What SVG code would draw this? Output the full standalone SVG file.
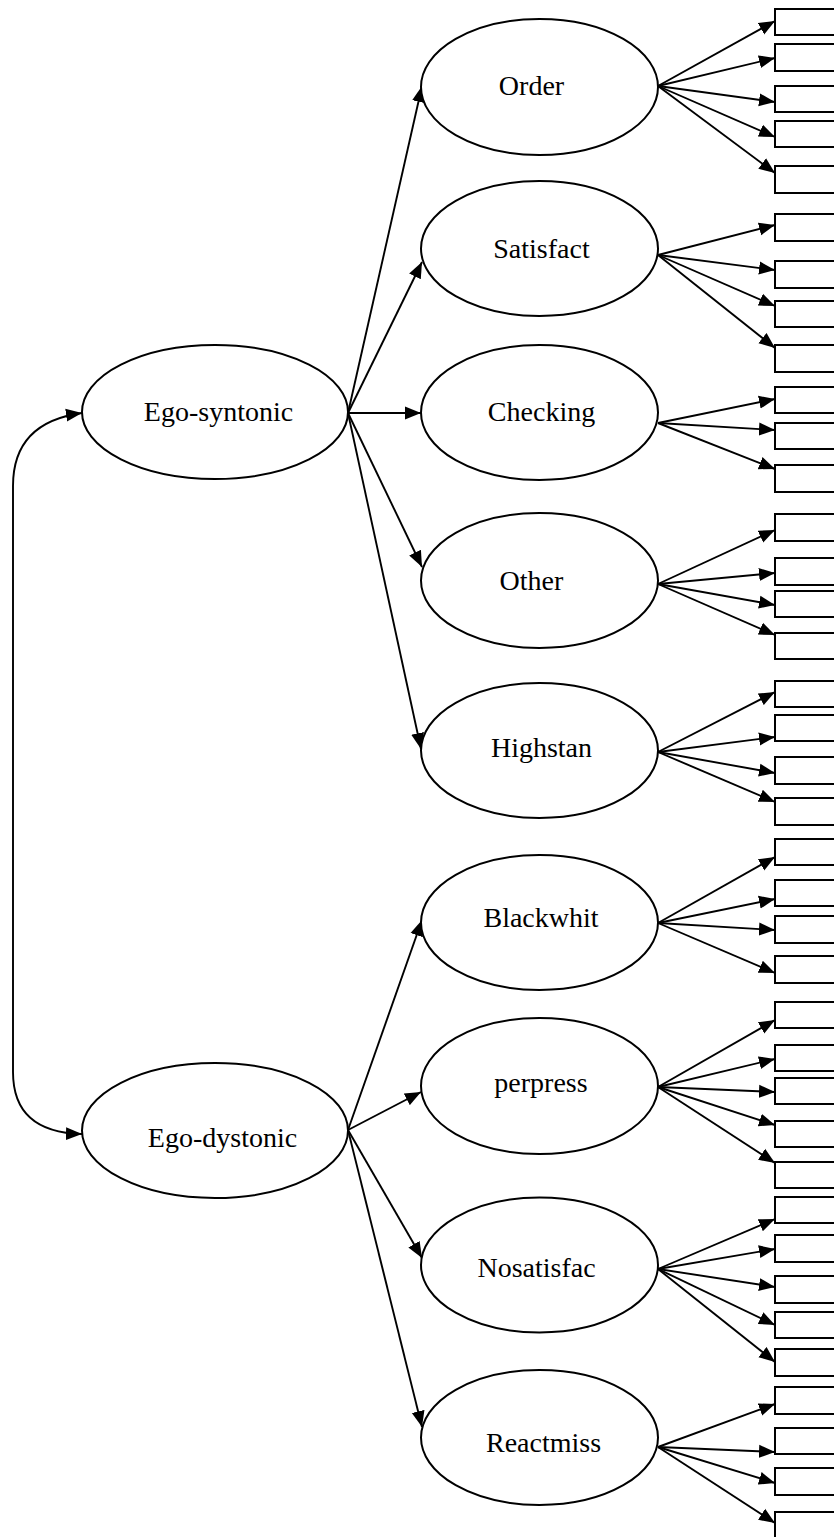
<svg xmlns="http://www.w3.org/2000/svg" width="834" height="1537" viewBox="0 0 834 1537">
  <style>
    .node ellipse { fill: #ffffff; stroke: #000000; stroke-width: 2; }
    .node text { font-family: "Liberation Serif", "Times New Roman", serif; font-size: 28px; fill: #000000; text-anchor: middle; }
    .ind rect { fill: #ffffff; stroke: #000000; stroke-width: 2; }
    .edges line, .edges path { fill: none; stroke: #000000; stroke-width: 1.9; marker-end: url(#arrow); }
    .edges path.both { marker-start: url(#arrowStart); }
  </style>
  <defs>
    <marker id="arrow" markerUnits="userSpaceOnUse" markerWidth="17" markerHeight="14" refX="16" refY="7" orient="auto">
      <path d="M0,0.5 L16,7 L0,13.5 z" fill="#000000"/>
    </marker>
    <marker id="arrowStart" markerUnits="userSpaceOnUse" markerWidth="17" markerHeight="14" refX="16" refY="7" orient="auto-start-reverse">
      <path d="M0,0.5 L16,7 L0,13.5 z" fill="#000000"/>
    </marker>
  </defs>
  <rect x="0" y="0" width="834" height="1537" fill="#ffffff"/>

  <!-- connectors -->
  <g id="connectors" class="edges">
    <!-- correlation between the two factors -->
    <path class="both" d="M82,413 C38,419 13,442 13,486 L13,1072 C13,1112 36,1133 82,1134"/>

    <!-- Ego-syntonic to its first-order factors -->
    <line x1="348" y1="413" x2="422" y2="86"/>
    <line x1="348" y1="413" x2="422" y2="262"/>
    <line x1="348" y1="413" x2="421" y2="413"/>
    <line x1="348" y1="413" x2="422" y2="567"/>
    <line x1="348" y1="413" x2="421" y2="749"/>

    <!-- Ego-dystonic to its first-order factors -->
    <line x1="348" y1="1130" x2="422" y2="920"/>
    <line x1="348" y1="1130" x2="421" y2="1092"/>
    <line x1="348" y1="1130" x2="422" y2="1258"/>
    <line x1="348" y1="1130" x2="422" y2="1427"/>

    <!-- Order indicators -->
    <line x1="658" y1="86" x2="775" y2="21"/>
    <line x1="658" y1="86" x2="775" y2="58"/>
    <line x1="658" y1="86" x2="775" y2="102"/>
    <line x1="658" y1="86" x2="775" y2="137"/>
    <line x1="658" y1="86" x2="775" y2="173"/>
    <!-- Satisfact indicators -->
    <line x1="658" y1="255" x2="775" y2="225"/>
    <line x1="658" y1="255" x2="775" y2="270"/>
    <line x1="658" y1="255" x2="775" y2="306"/>
    <line x1="658" y1="255" x2="775" y2="348"/>
    <!-- Checking indicators -->
    <line x1="658" y1="423" x2="775" y2="399"/>
    <line x1="658" y1="423" x2="775" y2="430"/>
    <line x1="658" y1="423" x2="775" y2="469"/>
    <!-- Other indicators -->
    <line x1="658" y1="584" x2="775" y2="530"/>
    <line x1="658" y1="584" x2="775" y2="573"/>
    <line x1="658" y1="584" x2="775" y2="605"/>
    <line x1="658" y1="584" x2="775" y2="635"/>
    <!-- Highstan indicators -->
    <line x1="658" y1="752" x2="775" y2="692"/>
    <line x1="658" y1="752" x2="775" y2="737"/>
    <line x1="658" y1="752" x2="775" y2="773"/>
    <line x1="658" y1="752" x2="775" y2="802"/>
    <!-- Blackwhit indicators -->
    <line x1="658" y1="923" x2="775" y2="857"/>
    <line x1="658" y1="923" x2="775" y2="899"/>
    <line x1="658" y1="923" x2="775" y2="930"/>
    <line x1="658" y1="923" x2="775" y2="973"/>
    <!-- perpress indicators -->
    <line x1="658" y1="1087" x2="775" y2="1020"/>
    <line x1="658" y1="1087" x2="775" y2="1059"/>
    <line x1="658" y1="1087" x2="775" y2="1092"/>
    <line x1="658" y1="1087" x2="775" y2="1125"/>
    <line x1="658" y1="1087" x2="775" y2="1163"/>
    <!-- Nosatisfac indicators -->
    <line x1="658" y1="1269" x2="775" y2="1219"/>
    <line x1="658" y1="1269" x2="775" y2="1249"/>
    <line x1="658" y1="1269" x2="775" y2="1287"/>
    <line x1="658" y1="1269" x2="775" y2="1325"/>
    <line x1="658" y1="1269" x2="775" y2="1362"/>
    <!-- Reactmiss indicators -->
    <line x1="658" y1="1447" x2="775" y2="1404"/>
    <line x1="658" y1="1447" x2="775" y2="1452"/>
    <line x1="658" y1="1447" x2="775" y2="1483"/>
    <line x1="658" y1="1447" x2="775" y2="1523"/>
  </g>

  <!-- second-order factors -->
  <g id="ego-syntonic" class="node">
    <ellipse cx="215" cy="412" rx="133" ry="67"/>
    <text x="218.5" y="421">Ego-syntonic</text>
  </g>
  <g id="ego-dystonic" class="node">
    <ellipse cx="215" cy="1130.5" rx="133" ry="67.5"/>
    <text x="222.5" y="1147">Ego-dystonic</text>
  </g>

  <!-- first-order factors -->
  <g id="order" class="node">
    <ellipse cx="539.5" cy="87" rx="118.5" ry="68"/>
    <text x="531.5" y="95">Order</text>
  </g>
  <g id="satisfact" class="node">
    <ellipse cx="539.5" cy="248.5" rx="118.5" ry="67.5"/>
    <text x="541.5" y="258">Satisfact</text>
  </g>
  <g id="checking" class="node">
    <ellipse cx="539.5" cy="412.5" rx="118.5" ry="67.5"/>
    <text x="541.5" y="421">Checking</text>
  </g>
  <g id="other" class="node">
    <ellipse cx="539.5" cy="580.5" rx="118.5" ry="67.5"/>
    <text x="531.5" y="590">Other</text>
  </g>
  <g id="highstan" class="node">
    <ellipse cx="539.5" cy="750.5" rx="118.5" ry="67.5"/>
    <text x="541.5" y="757">Highstan</text>
  </g>
  <g id="blackwhit" class="node">
    <ellipse cx="539.5" cy="922.5" rx="118.5" ry="67.5"/>
    <text x="541" y="927">Blackwhit</text>
  </g>
  <g id="perpress" class="node">
    <ellipse cx="539.5" cy="1086" rx="118.5" ry="68"/>
    <text x="541" y="1092">perpress</text>
  </g>
  <g id="nosatisfac" class="node">
    <ellipse cx="539.5" cy="1265" rx="118.5" ry="67.5"/>
    <text x="536.5" y="1277">Nosatisfac</text>
  </g>
  <g id="reactmiss" class="node">
    <ellipse cx="539.5" cy="1437.5" rx="118.5" ry="67.5"/>
    <text x="543.5" y="1452">Reactmiss</text>
  </g>

  <!-- observed indicators -->
  <g id="ind-order" class="ind">
    <rect x="775" y="9" width="80" height="26"/>
    <rect x="775" y="44" width="80" height="27"/>
    <rect x="775" y="86" width="80" height="26"/>
    <rect x="775" y="121" width="80" height="26"/>
    <rect x="775" y="166" width="80" height="27"/>
  </g>
  <g id="ind-satisfact" class="ind">
    <rect x="775" y="214" width="80" height="27"/>
    <rect x="775" y="261" width="80" height="27"/>
    <rect x="775" y="301" width="80" height="26"/>
    <rect x="775" y="345" width="80" height="27"/>
  </g>
  <g id="ind-checking" class="ind">
    <rect x="775" y="387" width="80" height="26"/>
    <rect x="775" y="423" width="80" height="26"/>
    <rect x="775" y="465" width="80" height="27"/>
  </g>
  <g id="ind-other" class="ind">
    <rect x="775" y="514" width="80" height="27"/>
    <rect x="775" y="558" width="80" height="27"/>
    <rect x="775" y="591" width="80" height="26"/>
    <rect x="775" y="633" width="80" height="26"/>
  </g>
  <g id="ind-highstan" class="ind">
    <rect x="775" y="681" width="80" height="26"/>
    <rect x="775" y="715" width="80" height="26"/>
    <rect x="775" y="757" width="80" height="27"/>
    <rect x="775" y="798" width="80" height="27"/>
  </g>
  <g id="ind-blackwhit" class="ind">
    <rect x="775" y="839" width="80" height="26"/>
    <rect x="775" y="880" width="80" height="26"/>
    <rect x="775" y="916" width="80" height="27"/>
    <rect x="775" y="956" width="80" height="27"/>
  </g>
  <g id="ind-perpress" class="ind">
    <rect x="775" y="1002" width="80" height="26"/>
    <rect x="775" y="1045" width="80" height="26"/>
    <rect x="775" y="1078" width="80" height="26"/>
    <rect x="775" y="1121" width="80" height="26"/>
    <rect x="775" y="1162" width="80" height="26"/>
  </g>
  <g id="ind-nosatisfac" class="ind">
    <rect x="775" y="1197" width="80" height="26"/>
    <rect x="775" y="1235" width="80" height="27"/>
    <rect x="775" y="1276" width="80" height="27"/>
    <rect x="775" y="1312" width="80" height="26"/>
    <rect x="775" y="1349" width="80" height="27"/>
  </g>
  <g id="ind-reactmiss" class="ind">
    <rect x="775" y="1387" width="80" height="27"/>
    <rect x="775" y="1428" width="80" height="26"/>
    <rect x="775" y="1468" width="80" height="27"/>
    <rect x="775" y="1512" width="80" height="27"/>
  </g>
</svg>
